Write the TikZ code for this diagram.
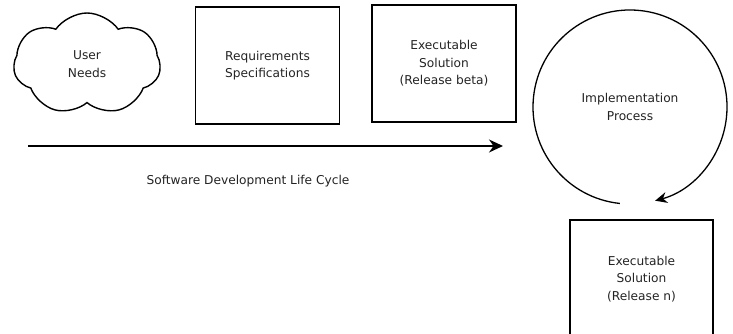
\documentclass[tikz,border=0pt]{standalone}
\usepackage{fontspec}
\usepackage{xcolor}
\usepackage{tikz}
\usetikzlibrary{shapes.symbols, arrows.meta, positioning}
\newfontfamily\diagfont{DejaVu Sans}
\definecolor{mytext}{RGB}{35,35,35}
\definecolor{myline}{RGB}{0,0,0}
\tikzset{
  txt/.style={align=center, text=mytext, inner sep=0pt,
    font=\diagfont\fontsize{12.2}{17.5}\selectfont},
  stagebox/.style={txt, rectangle, draw=myline, line width=1.7pt,
    minimum width=144pt, minimum height=117pt},
  needcloud/.style={txt, cloud, draw=myline, line width=1.4pt,
    cloud puffs=7, cloud puff arc=110, aspect=1.45,
    minimum width=147pt, minimum height=102pt},
  ring/.style={txt, circle, draw=none, outer sep=0pt,
    minimum size=194pt},
  arrow/.style={-{Stealth[length=14pt, width=13pt]}, line width=1.6pt, color=myline}
}

\begin{document}
\begin{tikzpicture}[x=1pt, y=1pt]
  \useasboundingbox (0,0) rectangle (733,334);

  % Stages of the cycle
  \node[needcloud] (user) at (87,270) {User\\Needs};
  \node[stagebox] (reqs) at (267.5,268.5) {Requirements\\Specifications};
  \node[stagebox] (beta) at (444,270.5) {Executable\\Solution\\(Release beta)};

  % Time line
  \coordinate (lcstart) at (28,188);
  \coordinate (lcend) at (503,188);
  \draw[arrow] (lcstart) -- (lcend);
  \node[txt] (sdlc) at (248,153) {Software Development Life Cycle};

  % Implementation loop
  \node[ring] (impl) at (630,227) {Implementation\\Process};
  \draw[arrow, line width=1.3pt, -{Stealth[length=12pt, width=11pt]}]
    (impl.264) arc[start angle=264, end angle=-75, radius=97pt];

  % Final release, cut by the page edge
  \node[stagebox, minimum width=143pt, minimum height=118pt] (reln) at (641.5,55)
    {Executable\\Solution\\(Release n)};
\end{tikzpicture}
\end{document}
